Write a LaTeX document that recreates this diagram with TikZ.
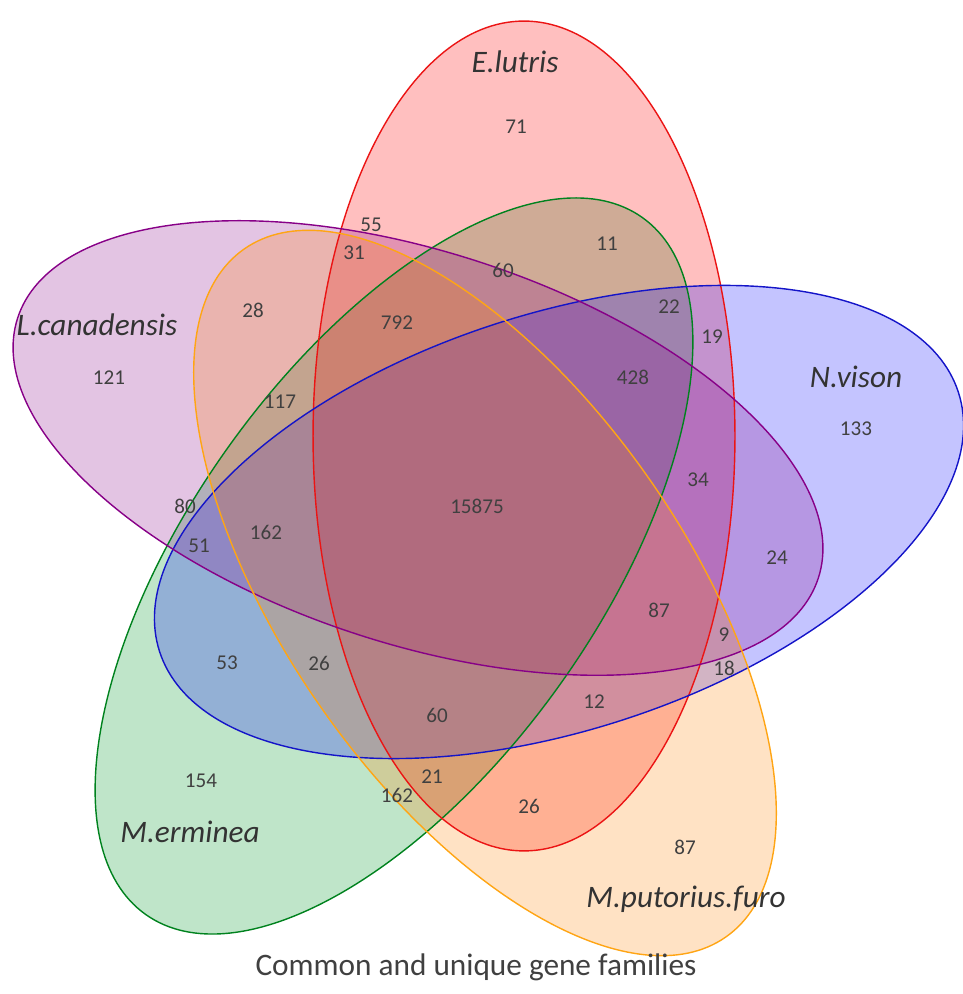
\documentclass[tikz,border=0pt]{standalone}
\usepackage{fontspec}
\setmainfont{Carlito}
\definecolor{cvermelho}{RGB}{235,20,20}
\definecolor{cazul}{RGB}{20,20,200}
\definecolor{croxo}{RGB}{135,0,135}
\definecolor{claranja}{RGB}{255,165,20}
\definecolor{cverde}{RGB}{0,130,30}
\definecolor{fverde}{RGB}{0,150,40}
\definecolor{ctexto}{RGB}{64,64,64}
\begin{document}
\begin{tikzpicture}[x=0.02cm, y=0.02cm,
    num/.style={font=\fontsize{12}{14}\selectfont, text=ctexto, inner sep=0pt},
    rotulo/.style={font=\fontsize{17.8}{21}\selectfont\itshape, text=ctexto!80!black, inner sep=0pt}]
\useasboundingbox (0,0) rectangle (963,994);
% Preenchimentos (verde, vermelho, azul, roxo, laranja)
\foreach \cor/\op/\cx/\cy/\ang/\ra/\rb in {fverde/0.25/394/428/54.5/8.56/4.08, red/0.25/524/558/0/4.22/8.3,
    blue/0.23/559/472/18/8.4/4.16, croxo/0.23/418/546/-18/8.42/3.92, orange/0.23/485/401/-55/8.4/4.0}
  \fill[\cor, fill opacity=\op, rotate around={\ang:(\cx,\cy)}] (\cx,\cy) ellipse [x radius=\ra cm, y radius=\rb cm];
% Contornos por cima
\foreach \cor/\cx/\cy/\ang/\ra/\rb in {cverde/394/428/54.5/8.56/4.08, cvermelho/524/558/0/4.22/8.3,
    cazul/559/472/18/8.4/4.16, croxo/418/546/-18/8.42/3.92, claranja/485/401/-55/8.4/4.0}
  \draw[\cor, line width=0.8pt, rotate around={\ang:(\cx,\cy)}] (\cx,\cy) ellipse [x radius=\ra cm, y radius=\rb cm];
% Nomes das especies
\node[rotulo] (lutris) at (515,932) {E.lutris};
\node[rotulo] (canad) at (97,669) {L.canadensis};
\node[rotulo] (vison) at (856,617) {N.vison};
\node[rotulo] (ermin) at (190,162) {M.erminea};
\node[rotulo] (furo) at (686,95) {M.putorius.furo};
% Contagens
\node[num] (n71) at (516,867) {71};
\node[num] (n55) at (371,769) {55};
\node[num] (n31) at (354,741) {31};
\node[num] (n11) at (607,750) {11};
\node[num] (n60a) at (503,724) {60};
\node[num] (n28) at (253,684) {28};
\node[num] (n792) at (397,671) {792};
\node[num] (n22) at (669,687) {22};
\node[num] (n19) at (712,657) {19};
\node[num] (n121) at (109,616) {121};
\node[num] (n428) at (633,617) {428};
\node[num] (n133) at (856,565) {133};
\node[num] (n117) at (280,592) {117};
\node[num] (n34) at (698,514) {34};
\node[num] (n80) at (185,488) {80};
\node[num] (n15875) at (477,488) {15875};
\node[num] (n162a) at (266,462) {162};
\node[num] (n51) at (199,448) {51};
\node[num] (n24) at (777,436) {24};
\node[num] (n87a) at (659,384) {87};
\node[num] (n9) at (724,359) {9};
\node[num] (n53) at (227,331) {53};
\node[num] (n26a) at (319,331) {26};
\node[num] (n18) at (724,326) {18};
\node[num] (n12) at (594,292) {12};
\node[num] (n60b) at (437,279) {60};
\node[num] (n154) at (201,213) {154};
\node[num] (n21) at (432,217) {21};
\node[num] (n162b) at (397,199) {162};
\node[num] (n26b) at (529,188) {26};
\node[num] (n87b) at (685,147) {87};
% Legenda
\node[font=\fontsize{17.8}{21}\selectfont, text=ctexto, inner sep=0pt] (legenda) at (476,27) {Common and unique gene families};
\end{tikzpicture}
\end{document}
